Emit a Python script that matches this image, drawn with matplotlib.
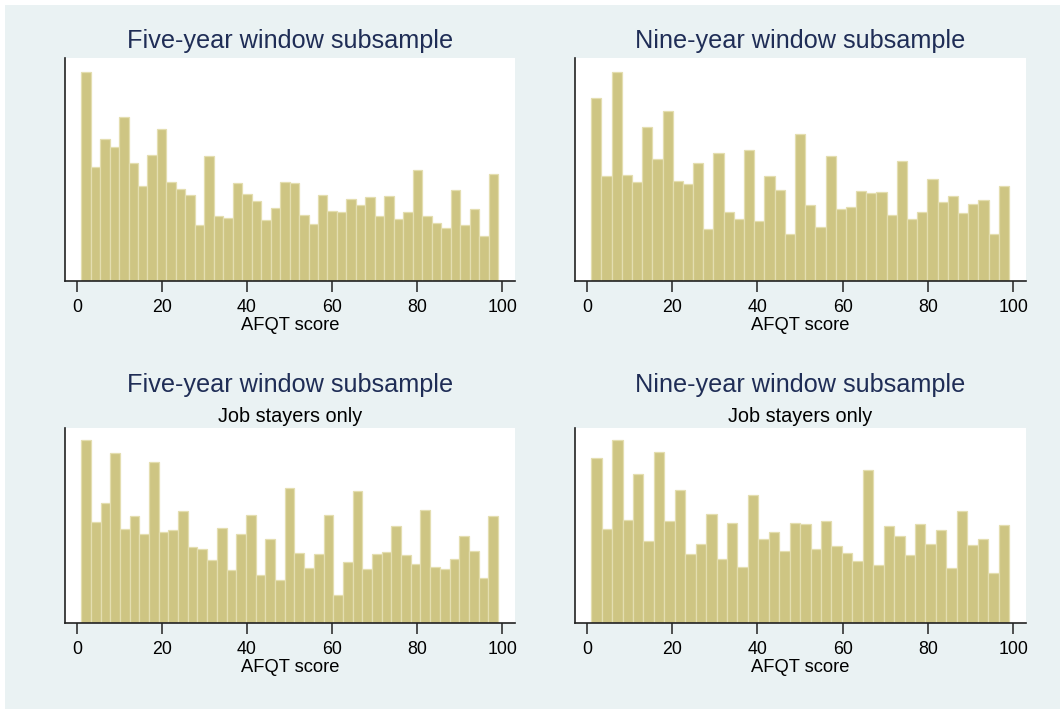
import numpy as np
import matplotlib
matplotlib.use("Agg")
import matplotlib.pyplot as plt
from matplotlib.patches import Rectangle

plt.rcParams['font.family'] = ['Liberation Sans', 'DejaVu Sans']

# ---- data (relative bar heights) ----
score_min, score_max = 1, 99

five_all = [630, 342, 426, 402, 494, 355, 285, 378, 457, 298, 276, 259, 168, 377, 195,
            190, 294, 262, 242, 184, 221, 298, 294, 198, 171, 260, 210, 207, 248, 228,
            254, 195, 255, 186, 208, 335, 195, 175, 159, 275, 168, 217, 135, 321]
nine_all = [550, 315, 630, 320, 297, 464, 366, 511, 301, 291, 355, 157, 386, 209, 188,
            393, 182, 317, 275, 141, 441, 228, 163, 375, 217, 222, 270, 264, 267, 200,
            362, 186, 207, 307, 238, 257, 204, 232, 243, 141, 287]
five_stay = [547, 301, 359, 508, 282, 321, 267, 480, 273, 277, 336, 226, 222, 187, 285,
             157, 267, 324, 144, 250, 127, 402, 208, 164, 207, 324, 84, 182, 393, 161,
             205, 213, 290, 203, 176, 338, 168, 161, 192, 259, 214, 135, 321]
nine_stay = [492, 280, 547, 309, 444, 244, 511, 304, 397, 205, 237, 327, 191, 298, 166,
             382, 250, 271, 214, 298, 295, 221, 304, 229, 209, 184, 457, 174, 290, 261,
             203, 296, 236, 279, 163, 334, 232, 250, 149, 294]

titles = ["Five-year window subsample", "Nine-year window subsample",
          "Five-year window subsample", "Nine-year window subsample"]
subtitles = ["", "", "Job stayers only", "Job stayers only"]
xlabel = "AFQT score"
xticks = [0, 20, 40, 60, 80, 100]

series = [five_all, nine_all, five_stay, nine_stay]

# ---- figure ----
W, H = 1060, 709
fig = plt.figure(figsize=(W / 100, H / 100), dpi=100)
fig.patch.set_facecolor('white')
bg = '#EAF2F3'
fig.add_artist(Rectangle((5 / W, 0), 1 - 5 / W, 1 - 5 / H, transform=fig.transFigure,
                         facecolor=bg, edgecolor='none', zorder=-10))

# panel boxes in pixels: left, right, top, bottom
boxes = [(65, 515, 58, 281), (575, 1026, 58, 281),
         (65, 515, 428, 623), (575, 1026, 428, 623)]
title_base = [48, 48, 392, 392]
sub_base = [None, None, 422, 422]

bar_face = '#CEC583'
bar_edge = '#E4DEB0'
navy = '#1F2D56'

for i, (vals, box) in enumerate(zip(series, boxes)):
    l, r, t, b = box
    ax = fig.add_axes([l / W, 1 - b / H, (r - l) / W, (b - t) / H])
    ax.set_facecolor('white')
    vals = np.asarray(vals, dtype=float)
    edges = np.linspace(score_min, score_max, len(vals) + 1)
    ax.bar(edges[:-1], vals, width=np.diff(edges), align='edge',
           color=bar_face, edgecolor=bar_edge, linewidth=0.9)
    ax.set_xlim(-2.8, 103)
    ax.set_ylim(0, vals.max() * 1.065)
    ax.set_yticks([])
    ax.set_xticks(xticks)
    ax.tick_params(axis='x', direction='out', length=8, width=1.1,
                   labelsize=12.8, pad=5, colors='#222222', labelcolor='black')
    for s in ['top', 'right']:
        ax.spines[s].set_visible(False)
    for s in ['left', 'bottom']:
        ax.spines[s].set_color('#222222')
        ax.spines[s].set_linewidth(1.2)
    ax.set_xlabel(xlabel, fontsize=13.2, labelpad=1)
    cx = (l + r) / 2 / W
    fig.text(cx, 1 - title_base[i] / H, titles[i], ha='center', va='baseline',
             fontsize=18.2, color=navy)
    if subtitles[i]:
        fig.text(cx, 1 - sub_base[i] / H, subtitles[i], ha='center', va='baseline',
                 fontsize=14.3, color='black')

fig.savefig('out.png', dpi=100, facecolor=fig.get_facecolor())
